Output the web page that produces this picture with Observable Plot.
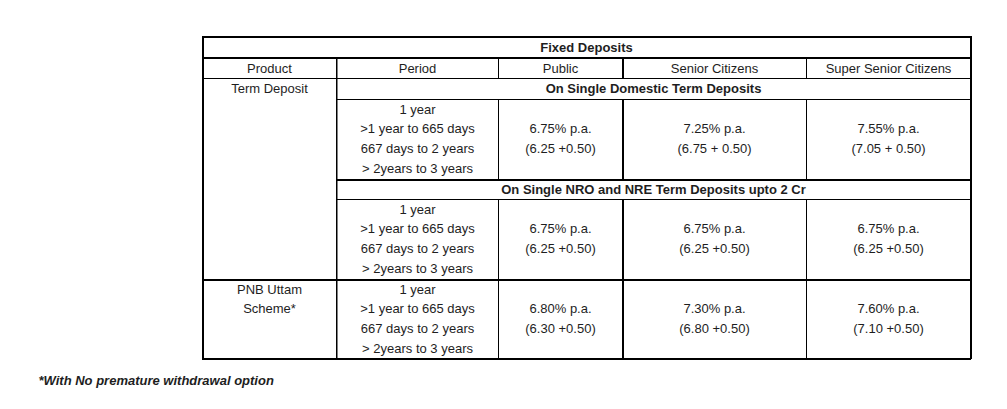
<!DOCTYPE html>
<html>
<head>
<meta charset="utf-8">
<script src="https://cdn.jsdelivr.net/npm/d3@7"></script>
<script src="https://cdn.jsdelivr.net/npm/@observablehq/plot@0.6"></script>
<style>
  html, body { margin: 0; padding: 0; background: #fff; }
  #chart svg { display: block; }
</style>
</head>
<body>
<div id="chart"></div>
<script>
// ---- Data ----
const title = "Fixed Deposits";
const headers = ["Product", "Period", "Public", "Senior Citizens", "Super Senior Citizens"];
const sections = ["On Single Domestic Term Deposits", "On Single NRO and NRE Term Deposits upto 2 Cr"];
const products = ["Term Deposit", "PNB Uttam\nScheme*"];
const periods = ["1 year", ">1 year to 665 days", "667 days to 2 years", "> 2years to 3 years"];
const publicRate = ["6.75% p.a.", "6.75% p.a.", "6.80% p.a."];
const publicBreakup = ["(6.25 +0.50)", "(6.25 +0.50)", "(6.30 +0.50)"];
const seniorRate = ["7.25% p.a.", "6.75% p.a.", "7.30% p.a."];
const seniorBreakup = ["(6.75 + 0.50)", "(6.25 +0.50)", "(6.80 +0.50)"];
const superRate = ["7.55% p.a.", "6.75% p.a.", "7.60% p.a."];
const superBreakup = ["(7.05 + 0.50)", "(6.25 +0.50)", "(7.10 +0.50)"];
const footnote = "*With No premature withdrawal option";

// ---- Layout (pixel grid of the table) ----
const W = 1007, H = 409;
const colEdges = [202, 336, 498, 622, 806, 970];
const tableTop = 36, titleBottom = 57, headerBottom = 78, tableBottom = 358;
const sectionTops = [78, 179];
const blockTops = [99, 199, 279];
const blockH = 79.5;
const lineStep = 19.7;
const colCenter = i => (colEdges[i] + colEdges[i + 1]) / 2;

// ---- Grid lines ----
const hRules = [
  {y: tableTop, x1: colEdges[0], x2: colEdges[5], w: 2},
  {y: titleBottom, x1: colEdges[0], x2: colEdges[5], w: 2},
  {y: headerBottom, x1: colEdges[0], x2: colEdges[5], w: 1},
  {y: blockTops[0], x1: colEdges[1], x2: colEdges[5], w: 1},
  {y: sectionTops[1], x1: colEdges[1], x2: colEdges[5], w: 2},
  {y: blockTops[1], x1: colEdges[1], x2: colEdges[5], w: 1},
  {y: blockTops[2], x1: colEdges[0], x2: colEdges[5], w: 2},
  {y: tableBottom, x1: colEdges[0], x2: colEdges[5], w: 2}
];
const innerW = [null, 1.5, 1, 2, 1, null];
const vRules = [
  {x: colEdges[0], y1: tableTop, y2: tableBottom, w: 2},
  {x: colEdges[5], y1: tableTop, y2: tableBottom, w: 2},
  {x: colEdges[1], y1: titleBottom, y2: tableBottom, w: 1.5}
];
for (let c = 2; c <= 4; c++) {
  vRules.push({x: colEdges[c], y1: titleBottom, y2: headerBottom, w: innerW[c]});
  vRules.push({x: colEdges[c], y1: blockTops[0], y2: sectionTops[1], w: innerW[c]});
  vRules.push({x: colEdges[c], y1: blockTops[1], y2: tableBottom, w: innerW[c]});
}

// ---- Texts ----
const texts = [];
texts.push({x: (colEdges[0] + colEdges[5]) / 2, y: (tableTop + titleBottom) / 2 + 0.5, t: title, bold: true});
headers.forEach((h, i) => texts.push({x: colCenter(i), y: (titleBottom + headerBottom) / 2 + 0.5, t: h, bold: false}));
sections.forEach((s, i) => texts.push({x: (colEdges[1] + colEdges[5]) / 2, y: sectionTops[i] + 10.5, t: s, bold: true}));
// products
texts.push({x: colCenter(0), y: sectionTops[0] + 10.5, t: products[0], bold: false});
products[1].split("\n").forEach((l, j) => texts.push({x: colCenter(0), y: blockTops[2] + 10 + j * lineStep, t: l, bold: false}));
const rates = [[publicRate, publicBreakup], [seniorRate, seniorBreakup], [superRate, superBreakup]];
blockTops.forEach((top, b) => {
  periods.forEach((p, j) => texts.push({x: colCenter(1), y: top + 10 + j * lineStep, t: p, bold: false}));
  rates.forEach(([r, br], c) => {
    texts.push({x: colCenter(c + 2), y: top + 10 + lineStep, t: r[b], bold: false});
    texts.push({x: colCenter(c + 2), y: top + 10 + 2 * lineStep, t: br[b], bold: false});
  });
});

const font = "'Liberation Sans', Arial, sans-serif";
const ink = "#1e1e1e";

const chart = Plot.plot({
  width: W,
  height: H,
  margin: 0,
  style: {fontFamily: font, background: "#fff"},
  x: {type: "linear", domain: [0, W], range: [0, W], axis: null},
  y: {type: "linear", domain: [0, H], range: [0, H], axis: null},
  marks: [
    Plot.ruleY(hRules.filter(d => d.w === 1), {y: "y", x1: "x1", x2: "x2", stroke: "#000", strokeWidth: 1}),
    Plot.ruleY(hRules.filter(d => d.w === 2), {y: d => d.y + 0.5, x1: "x1", x2: d => d.x2 + 1, stroke: "#000", strokeWidth: 2}),
    Plot.ruleX(vRules.filter(d => d.w === 1), {x: "x", y1: "y1", y2: "y2", stroke: "#000", strokeWidth: 1}),
    Plot.ruleX(vRules.filter(d => d.w === 1.5), {x: d => d.x + 0.25, y1: "y1", y2: "y2", stroke: "#000", strokeWidth: 1.5}),
    Plot.ruleX(vRules.filter(d => d.w === 2), {x: d => d.x + 0.5, y1: "y1", y2: d => d.y2 + 1, stroke: "#000", strokeWidth: 2}),
    Plot.text(texts.filter(d => !d.bold), {x: "x", y: "y", text: "t", fontSize: 13, fill: ink, textAnchor: "middle"}),
    Plot.text(texts.filter(d => d.bold), {x: "x", y: "y", text: "t", fontSize: 13, fontWeight: "bold", fill: ink, textAnchor: "middle"}),
    Plot.text([{x: 38, y: 380.5, t: footnote}], {x: "x", y: "y", text: "t", fontSize: 13, fontWeight: "bold", fontStyle: "italic", fill: ink, textAnchor: "start"})
  ]
});
document.getElementById("chart").appendChild(chart);
</script>
</body>
</html>
